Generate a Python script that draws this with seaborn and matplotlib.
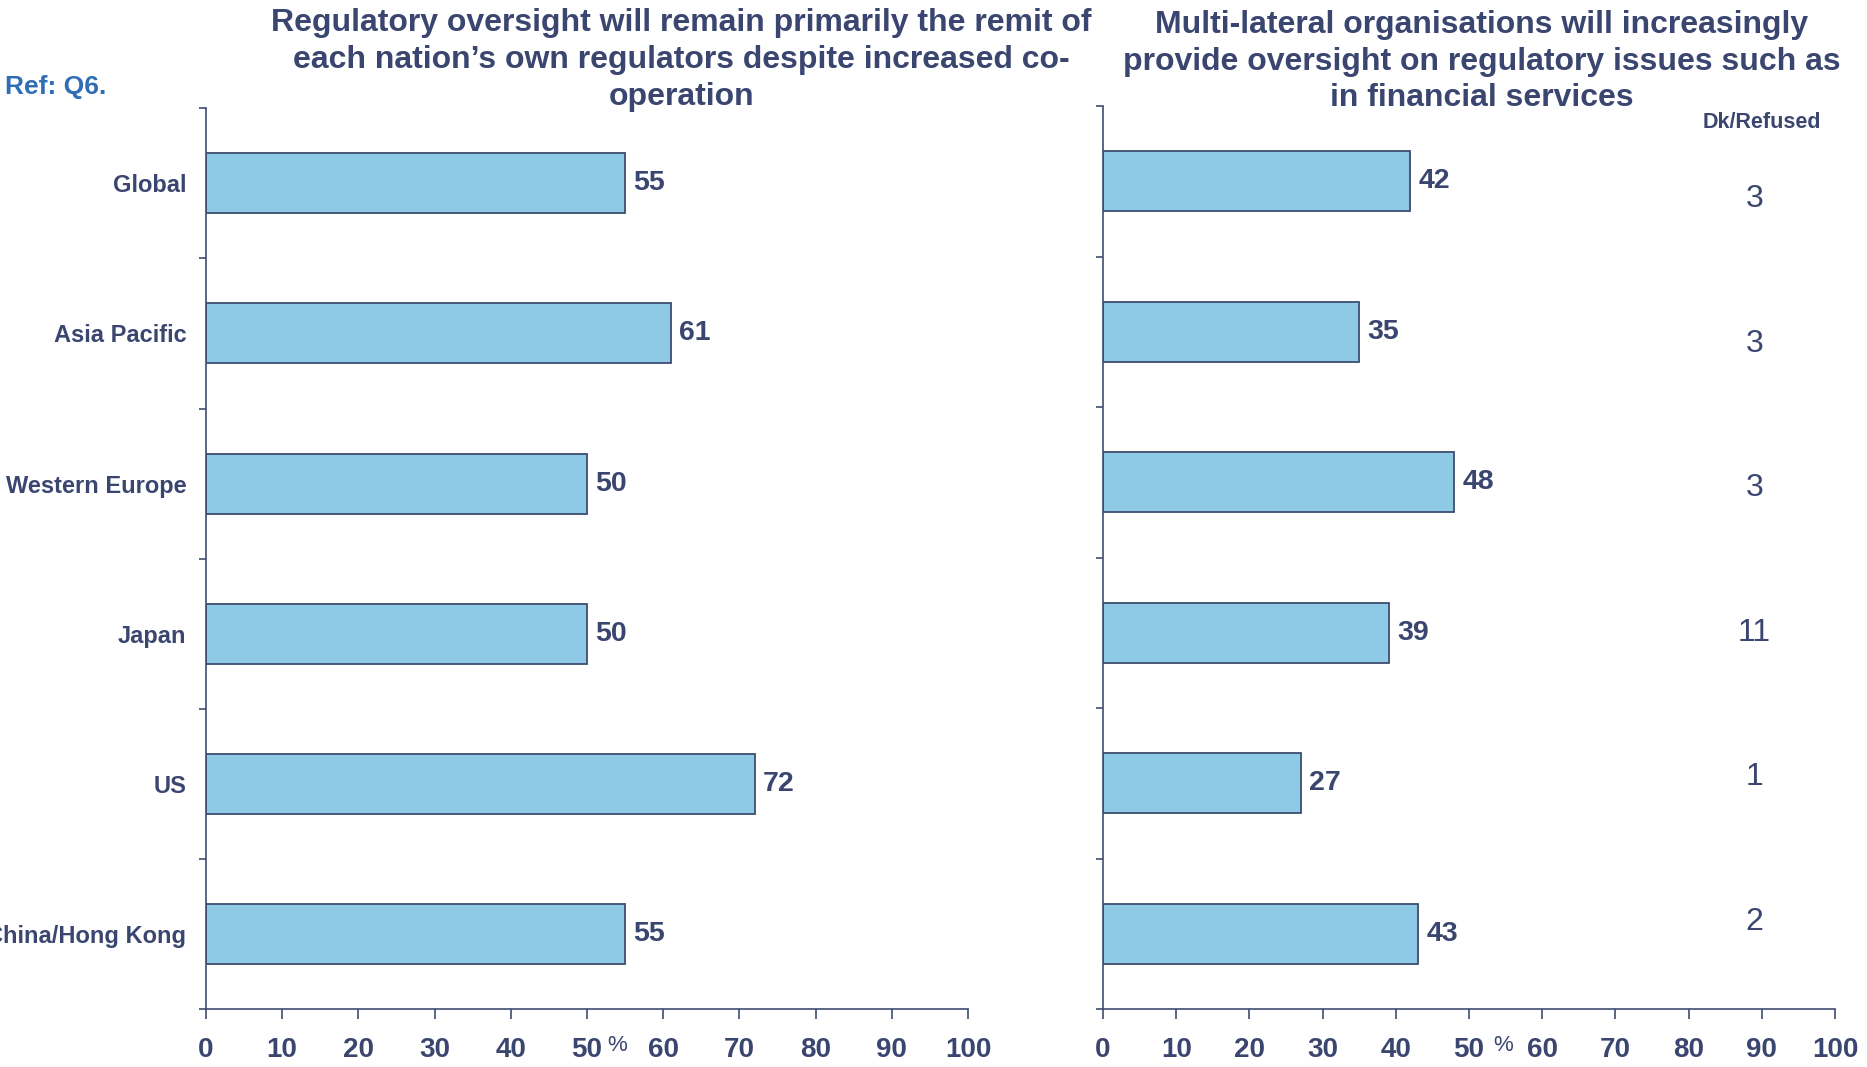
import pandas as pd
import matplotlib
matplotlib.use("Agg")
import matplotlib.pyplot as plt
import matplotlib.transforms as mtransforms
import seaborn as sns

# ── Dados ──────────────────────────────────────────────────────────────────────
regioes = ["Global", "Asia Pacific", "Western Europe", "Japan", "US", "China/Hong Kong"]
nacional = [55, 61, 50, 50, 72, 55]
multilateral = [42, 35, 48, 39, 27, 43]
dk_refused = [3, 3, 3, 11, 1, 2]
ticks_x = [0, 10, 20, 30, 40, 50, 60, 70, 80, 90, 100]

titulo_esq = ("Regulatory oversight will remain primarily the remit of\n"
              "each nation\u2019s own regulators despite increased co-\n"
              "operation")
titulo_dir = ("Multi-lateral organisations will increasingly\n"
              "provide oversight on regulatory issues such as\n"
              "in financial services")

# ── Estilo ─────────────────────────────────────────────────────────────────────
sns.set_theme(style="white")
plt.rcParams["font.family"] = ["Liberation Sans", "DejaVu Sans"]

COR_BARRA = "#8ECAE6"
COR_BORDA = "#3E4D70"
COR_TEXTO = "#3A4670"
COR_REF   = "#2F6EB5"

df = pd.DataFrame({"Regiao": regioes, "Nacional": nacional,
                   "Multilateral": multilateral, "Dk": dk_refused})

fig = plt.figure(figsize=(18.67, 10.67), dpi=100)
ax1 = fig.add_axes([0.1103, 0.0542, 0.4082, 0.8444])
ax2 = fig.add_axes([0.5908, 0.0542, 0.3921, 0.8464])


def painel(ax, coluna, mostra_rotulos, x_pct):
    sns.barplot(data=df, x=coluna, y="Regiao", orient="h", color=COR_BARRA,
                edgecolor=COR_BORDA, linewidth=1.3, width=0.4, saturation=1, ax=ax)
    ax.set_xlim(0, 100)
    ax.set_ylim(len(regioes) - 0.5, -0.5)
    ax.set_xlabel("")
    ax.set_ylabel("")
    for lado in ["top", "right"]:
        ax.spines[lado].set_visible(False)
    for lado in ["left", "bottom"]:
        ax.spines[lado].set_color(COR_BORDA)
        ax.spines[lado].set_linewidth(1.2)
    ax.set_xticks(ticks_x)
    ax.set_xticklabels([str(t) for t in ticks_x], fontsize=20,
                       fontweight="bold", color=COR_TEXTO)
    ax.tick_params(axis="x", direction="out", length=7, width=1.2,
                   color=COR_BORDA, pad=13, bottom=True)
    ax.set_yticks(range(len(regioes)))
    ax.set_yticks([i - 0.5 for i in range(len(regioes) + 1)], minor=True)
    ax.tick_params(axis="y", which="major", length=0, pad=14, left=False)
    ax.tick_params(axis="y", which="minor", length=5, width=1.2,
                   color=COR_BORDA, left=True, direction="out")
    if mostra_rotulos:
        ax.set_yticklabels(regioes, fontsize=17, fontweight="bold", color=COR_TEXTO)
    else:
        ax.set_yticklabels([])
    for cont in ax.containers:
        ax.bar_label(cont, labels=[str(v) for v in df[coluna]], padding=6,
                     fontsize=20.5, fontweight="bold", color=COR_TEXTO)
    ax.grid(False)
    # sinal de % ao lado do 50
    trans = mtransforms.blended_transform_factory(ax.transData, ax.transAxes)
    ax.text(x_pct, -0.040, "%", transform=trans, fontsize=16, color=COR_TEXTO,
            ha="center", va="center")


painel(ax1, "Nacional", True, 54.0)
painel(ax2, "Multilateral", False, 54.7)

# Coluna Dk/Refused
for i, v in enumerate(dk_refused):
    ax2.text(89, 0.12 + i * 0.96, str(v), ha="center", va="center",
             fontsize=23, color=COR_TEXTO)
fig.text(0.9438, 0.8850, "Dk/Refused", ha="center", va="center",
         fontsize=15.5, fontweight="bold", color=COR_TEXTO)

# Títulos
fig.text(0.3648, 0.9440, titulo_esq, ha="center", va="center", fontsize=23,
         fontweight="bold", color=COR_TEXTO, linespacing=1.3)
fig.text(0.7938, 0.9423, titulo_dir, ha="center", va="center", fontsize=23,
         fontweight="bold", color=COR_TEXTO, linespacing=1.3)
fig.text(0.0027, 0.918, "Ref: Q6.", ha="left", va="center", fontsize=19,
         fontweight="bold", color=COR_REF)

fig.savefig("out.png", dpi=100, facecolor="white")
plt.close(fig)
